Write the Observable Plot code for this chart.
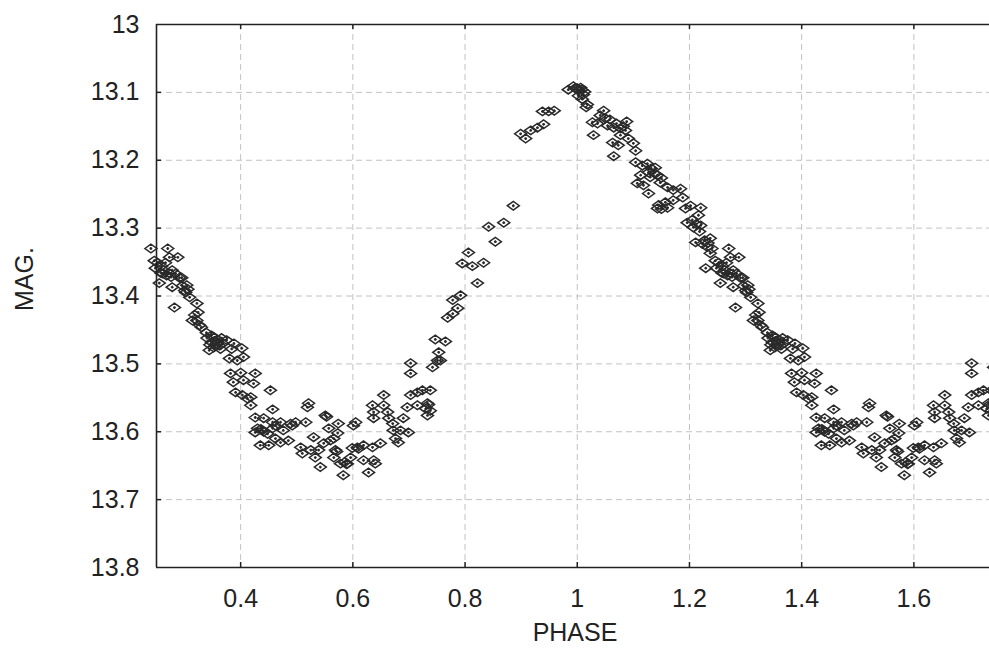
<!DOCTYPE html>
<html><head><meta charset="utf-8">
<script src="https://cdn.jsdelivr.net/npm/d3@7"></script>
<script src="https://cdn.jsdelivr.net/npm/@observablehq/plot@0.6"></script>
<style>body{margin:0;background:#fff;} #chart svg{display:block}</style>
</head><body><div id="chart"></div>
<script>
// Folded light curve: [phase (0-1), magnitude]; drawn at phase and phase+1
const descending = [
  [0.000,13.094],[0.006,13.093],[0.013,13.099],[0.002,13.105],[0.009,13.110],[0.018,13.118],[0.016,13.122],
  [0.027,13.144],[0.036,13.146],[0.041,13.134],[0.047,13.127],[0.054,13.149],[0.065,13.152],[0.077,13.153],
  [0.088,13.143],[0.086,13.156],[0.029,13.163],[0.063,13.174],[0.073,13.178],[0.091,13.168],[0.100,13.175],
  [0.104,13.186],[0.065,13.194],[0.104,13.203],[0.116,13.208],[0.127,13.218],[0.139,13.211],[0.113,13.222],
  [0.107,13.234],[0.118,13.237],[0.148,13.233],[0.161,13.240],[0.171,13.244],[0.184,13.242],[0.127,13.249],
  [0.143,13.271],[0.161,13.270],[0.171,13.259],[0.188,13.255],[0.193,13.271],[0.196,13.292],[0.207,13.299],
  [0.220,13.270],[0.216,13.281],[0.220,13.296],[0.237,13.315],[0.223,13.323],[0.211,13.321],[0.232,13.328],
  [0.270,13.330],[0.288,13.343],[0.273,13.343],[0.237,13.337],[0.246,13.348],[0.229,13.359],[0.261,13.367],
  [0.278,13.362],[0.295,13.373],[0.255,13.381],[0.278,13.387],[0.304,13.384],[0.309,13.402],[0.282,13.417],
  [0.322,13.411],[0.324,13.424],[0.314,13.436],[0.327,13.443],[0.339,13.454],[0.353,13.461],[0.344,13.480],
  [0.362,13.473],[0.348,13.468],[0.252,13.351],[0.259,13.356],[0.266,13.351],[0.284,13.367],[0.291,13.373],
  [0.248,13.359],[0.143,13.222],[0.150,13.226],[0.202,13.267],[0.348,13.458],[0.360,13.465],[0.368,13.470],
  [0.300,13.392],[0.077,13.163],[0.050,13.138],
  [0.003,13.097],[0.008,13.096],[0.011,13.103],[0.058,13.140],[0.070,13.146],[0.082,13.150],
  [0.125,13.205],[0.132,13.212],[0.137,13.219],[0.130,13.225],[0.145,13.266],[0.150,13.272],[0.157,13.262],
  [0.205,13.288],[0.212,13.294],[0.218,13.305],[0.227,13.318],[0.233,13.322],[0.240,13.330],
  [0.263,13.362],[0.268,13.370],[0.272,13.366],[0.276,13.372],[0.258,13.366],[0.296,13.385],[0.302,13.395],
  [0.306,13.390],[0.318,13.428],[0.322,13.436],[0.330,13.446],[0.340,13.462],[0.345,13.472],[0.352,13.476],
  [0.357,13.470],[0.364,13.478],[0.355,13.466],[0.366,13.462]
];
const minimum = [
  [0.375,13.465],[0.402,13.477],[0.380,13.492],[0.394,13.495],[0.405,13.490],[0.382,13.514],[0.400,13.513],
  [0.426,13.514],[0.387,13.527],[0.405,13.524],[0.423,13.529],[0.453,13.539],[0.391,13.542],[0.403,13.546],
  [0.418,13.549],[0.412,13.551],[0.418,13.561],[0.457,13.567],[0.426,13.579],[0.441,13.580],[0.457,13.586],
  [0.471,13.586],[0.489,13.588],[0.498,13.586],[0.516,13.586],[0.430,13.595],[0.439,13.598],[0.457,13.595],
  [0.476,13.598],[0.492,13.591],[0.462,13.610],[0.471,13.616],[0.485,13.613],[0.435,13.620],[0.450,13.620],
  [0.521,13.558],[0.519,13.564],[0.551,13.576],[0.530,13.608],[0.557,13.595],[0.574,13.588],[0.573,13.602],
  [0.566,13.610],[0.507,13.623],[0.510,13.632],[0.525,13.627],[0.533,13.638],[0.539,13.627],[0.548,13.617],
  [0.560,13.613],[0.542,13.652],[0.569,13.627],[0.566,13.638],[0.578,13.647],[0.590,13.647],[0.583,13.664],
  [0.596,13.638],[0.599,13.624],[0.608,13.623],[0.619,13.620],[0.635,13.623],[0.649,13.617],[0.605,13.586],
  [0.601,13.591],[0.619,13.642],[0.628,13.660],[0.637,13.642],[0.640,13.647],[0.635,13.561],[0.637,13.571],
  [0.637,13.580],[0.655,13.546],[0.655,13.561],[0.662,13.571],[0.664,13.580],[0.671,13.588],[0.672,13.598],
  [0.685,13.598],[0.699,13.601],[0.676,13.610],[0.681,13.616],[0.690,13.580],[0.697,13.564],[0.703,13.546],
  [0.715,13.542],[0.724,13.539],[0.738,13.539],[0.715,13.561],[0.733,13.558],[0.738,13.569],[0.730,13.566],
  [0.733,13.576],[0.703,13.499],[0.703,13.514],[0.742,13.505],[0.751,13.495],[0.753,13.483],
  [0.426,13.601],[0.462,13.591],
  [0.553,13.578],[0.735,13.560],[0.571,13.629],[0.441,13.600],[0.585,13.645],[0.589,13.648],[0.610,13.625],
  [0.388,13.470],[0.384,13.478],[0.436,13.596],[0.448,13.603]
];
const rising = [
  [0.747,13.464],[0.765,13.467],[0.756,13.495],[0.792,13.399],[0.778,13.406],[0.787,13.418],[0.769,13.432],
  [0.778,13.426],[0.806,13.336],[0.795,13.352],[0.813,13.356],[0.833,13.351],[0.822,13.381],[0.869,13.292],
  [0.842,13.298],[0.854,13.320],[0.886,13.267],[0.899,13.161],[0.908,13.168],[0.917,13.156],[0.929,13.152],
  [0.940,13.147],[0.938,13.128],[0.949,13.128],[0.959,13.127],[0.984,13.096],[0.993,13.091],[0.996,13.094]
];
const xTicks = [0.4, 0.6, 0.8, 1, 1.2, 1.4, 1.6];
const yTicks = [13, 13.1, 13.2, 13.3, 13.4, 13.5, 13.6, 13.7, 13.8];
const yGrid = yTicks.slice(1, -1);
const xLabel = "PHASE";
const yLabel = "MAG.";

const folded = [...descending, ...minimum, ...rising]
  .flatMap(([p, m]) => [{phase: p, mag: m}, {phase: p + 1, mag: m}])
  .filter(d => d.phase >= 0.24 && d.phase <= 1.76);

const diamond = {
  draw(ctx) {
    ctx.moveTo(-6, 0); ctx.lineTo(0, -4.3); ctx.lineTo(6, 0); ctx.lineTo(0, 4.3); ctx.closePath();
    ctx.moveTo(-1.4, 0); ctx.lineTo(1.4, 0); ctx.moveTo(0, -1.4); ctx.lineTo(0, 1.4);
  }
};

const font = "'Liberation Sans', Arial, sans-serif";
const plot = Plot.plot({
  width: 989, height: 648,
  marginLeft: 156, marginRight: 0, marginTop: 24, marginBottom: 81,
  style: {fontFamily: font, fontSize: "25px", color: "#222", background: "#fff"},
  x: {domain: [0.25, 1.7348]},
  y: {domain: [13, 13.8], reverse: true},
  marks: [
    Plot.ruleX(xTicks, {x: Plot.identity, stroke: "#c2c2c2", strokeDasharray: "6,4", strokeOpacity: 1}),
    Plot.ruleY(yGrid, {y: Plot.identity, stroke: "#c2c2c2", strokeDasharray: "6,4", strokeOpacity: 1}),
    Plot.dot(folded, {x: "phase", y: "mag", symbol: diamond, r: 4, stroke: "#2a2a2a", strokeWidth: 1.5, fill: "none"}),
    Plot.tickX(xTicks, {x: Plot.identity, insetTop: 538, stroke: "#222", strokeWidth: 1.5}),
    Plot.tickX(xTicks, {x: Plot.identity, insetBottom: 538, stroke: "#222", strokeWidth: 1.5}),
    Plot.tickY(yGrid, {y: Plot.identity, insetRight: 828, stroke: "#222", strokeWidth: 1.5}),
    Plot.ruleY([13, 13.8], {y: Plot.identity, stroke: "#222", strokeWidth: 1.6}),
    Plot.ruleX([0.25], {x: Plot.identity, stroke: "#222", strokeWidth: 1.6}),
    Plot.axisX(xTicks, {tickSize: 0, tickPadding: 22, label: null, fontSize: 25, tickFormat: d => String(d)}),
    Plot.axisY(yTicks, {tickSize: 0, tickPadding: 17, label: null, fontSize: 25, tickFormat: d => String(d)}),
    Plot.text([xLabel], {frameAnchor: "bottom", dx: 2, dy: 73, lineAnchor: "bottom", fontSize: 25, fill: "#222"}),
    Plot.text([yLabel], {frameAnchor: "left", rotate: -90, dx: -132, dy: 15, fontSize: 25, fill: "#222"})
  ]
});
document.getElementById("chart").append(plot);
</script>
</body></html>
